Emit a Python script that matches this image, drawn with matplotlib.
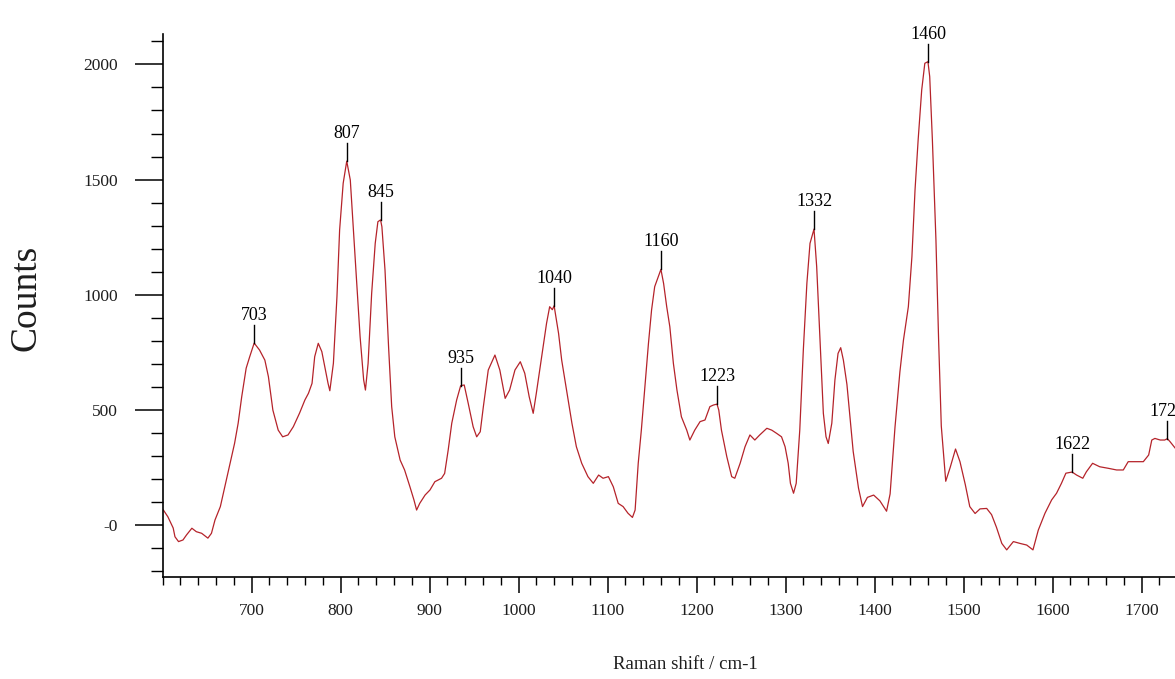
import matplotlib
matplotlib.use("Agg")
import matplotlib.pyplot as plt
import numpy as np
from matplotlib.ticker import MultipleLocator, FixedLocator, FixedFormatter

# Raman spectrum, read point by point (wavenumber in cm-1, intensity in counts)
shift = [
    601, 606, 612, 614, 618, 623, 627, 633, 638, 644, 651, 655, 659, 665, 670,
    676, 681, 685, 689, 694, 698, 703, 709, 715, 719, 724, 730, 735, 741, 747,
    754, 760, 764, 768, 771, 775, 779, 783, 786, 788, 792, 796, 799, 803, 807,
    811, 814, 818, 822, 826, 828, 831, 835, 839, 842, 845, 846.5, 850, 854,
    857.5, 861, 867, 872, 878, 882.5, 885.5, 889, 895, 900.5, 906, 913.5, 917,
    921, 925, 930.5, 935, 939, 943.5, 949, 953, 957, 960.5, 966, 973.5, 979,
    985, 990, 996, 1002, 1007, 1012, 1016.5, 1020, 1026, 1031.5, 1035, 1038,
    1040, 1042, 1045, 1048.5, 1054, 1060, 1065, 1071, 1078, 1084, 1090, 1095,
    1101, 1106.5, 1112, 1117.5, 1123, 1128, 1131, 1134.5, 1138, 1142, 1146,
    1149.5, 1153, 1160, 1163, 1166.5, 1170, 1174, 1178, 1183, 1189, 1192.5,
    1198, 1204, 1209.5, 1215, 1219, 1223, 1225, 1228, 1234, 1239.5, 1243,
    1249, 1254.5, 1260, 1265.5, 1271, 1279, 1284.5, 1290, 1295.5, 1299.5,
    1303, 1305.5, 1309, 1312, 1316, 1320, 1324, 1327.5, 1332, 1335, 1339,
    1342.5, 1345.5, 1348, 1352, 1355.5, 1359, 1362, 1365, 1369, 1376, 1382,
    1386.5, 1392, 1399, 1406, 1413.5, 1417.5, 1423, 1428.5, 1432.5, 1438,
    1442, 1445.5, 1449, 1453, 1456.5, 1460, 1462, 1465, 1469, 1472, 1475,
    1480, 1485, 1491, 1496, 1502, 1507, 1513, 1518.5, 1526, 1531.5, 1537,
    1543, 1548.5, 1556, 1563.5, 1571, 1578, 1584, 1591.5, 1599, 1604.5, 1610,
    1615, 1622, 1627, 1634, 1638, 1645, 1653, 1663, 1672, 1679.5, 1685, 1695,
    1702, 1708, 1711.5, 1715, 1721, 1726, 1729, 1732, 1738, 1745,
]
counts = [
    65, 36, -13, -51, -72, -65, -43, -14, -29, -36, -57, -36, 22, 80, 166,
    268, 355, 442, 557, 681, 731, 790, 760, 716, 644, 499, 412, 383, 391, 427,
    486, 543, 572, 615, 731, 789, 753, 673, 615, 583, 702, 991, 1281, 1484, 1580,
    1498, 1310, 1064, 818, 630, 586, 702, 1006, 1223, 1317, 1325, 1295, 1107, 774,
    514, 383, 282, 239, 166, 109, 65, 94, 130, 152, 188, 203, 224,
    326, 442, 543, 605, 608, 528, 427, 383, 405, 514, 673, 738, 673,
    550, 586, 673, 709, 659, 557, 485, 572, 731, 876, 948, 935,
    952, 905, 832, 716, 586, 442, 340, 268, 210, 181, 217, 203,
    210, 166, 94, 80, 51, 33, 65, 268, 412, 601, 789,
    934, 1035, 1110, 1049, 948, 861, 702, 586, 470, 412, 369,
    412, 449, 456, 514, 521, 525, 499, 412, 297, 210, 203,
    268, 340, 391, 369, 391, 420, 412, 398, 383, 340,
    268, 181, 138, 181, 412, 760, 1050, 1223, 1285, 1122, 780,
    485, 383, 354, 442, 630, 745, 770, 716, 610, 320, 160,
    80, 120, 130, 105, 60, 135, 425, 665, 803, 948,
    1165, 1455, 1672, 1889, 2005, 2012, 1947, 1672, 1237, 803, 430,
    190, 250, 330, 275, 175, 80, 50, 70, 72, 45, -10,
    -80, -108, -72, -80, -87, -108, -22, 51, 109, 138, 181,
    225, 230, 217, 203, 231, 268, 253, 246, 239, 239, 275, 275,
    275, 304, 369, 376, 369, 369, 375, 362, 333, 320,
]

# Labelled band positions (cm-1)
peaks = [703, 807, 845, 935, 1040, 1160, 1223, 1332, 1460, 1622, 1729]

x_major = [700, 800, 900, 1000, 1100, 1200, 1300, 1400, 1500, 1600, 1700]
y_major = [0, 500, 1000, 1500, 2000]
y_labels = ["-0", "500", "1000", "1500", "2000"]

serif = ["Liberation Serif", "DejaVu Serif"]
line_color = "#b5232a"
text_color = "#1e1e1e"

fig = plt.figure(figsize=(11.75, 6.79), dpi=100)
# axes run past the right edge of the figure, so the spectrum is cut off there
ax = fig.add_axes([0.1383, 0.1498, 0.8711, 0.7994])

ax.plot(shift, counts, color=line_color, lw=0.9, solid_joinstyle="round")

ax.set_xlim(600, 1750)
ax.set_ylim(-227, 2130)

for side in ("top", "right"):
    ax.spines[side].set_visible(False)
for side in ("left", "bottom"):
    ax.spines[side].set_linewidth(1.2)
    ax.spines[side].set_color("black")

ax.xaxis.set_major_locator(FixedLocator(x_major))
ax.xaxis.set_minor_locator(MultipleLocator(20))
ax.yaxis.set_major_locator(FixedLocator(y_major))
ax.yaxis.set_major_formatter(FixedFormatter(y_labels))
ax.yaxis.set_minor_locator(MultipleLocator(100))

ax.tick_params(axis="x", which="major", direction="out", length=11.5, width=1.1,
               pad=7, labelsize=12.5, labelcolor=text_color)
ax.tick_params(axis="x", which="minor", direction="out", length=5.6, width=1.0)
ax.tick_params(axis="y", which="major", direction="out", length=20, width=1.1,
               pad=12, labelsize=12.5, labelcolor=text_color)
ax.tick_params(axis="y", which="minor", direction="out", length=8.6, width=1.0)
for lab in ax.get_xticklabels() + ax.get_yticklabels():
    lab.set_family(serif)

# band markers: short stem above each labelled maximum, value on top
stem = 78
gap = 100
for p in peaks:
    yv = float(np.interp(p, shift, counts))
    ax.plot([p, p], [yv, yv + stem], color="black", lw=1.0, clip_on=False)
    ax.text(p, yv + gap, str(p), ha="center", va="baseline", fontsize=13,
            family=serif, color="black", clip_on=False)

fig.text(0.583, 0.021, "Raman shift / cm-1", ha="center", va="center",
         fontsize=13.5, family=serif, color=text_color)
fig.text(0.022, 0.561, "Counts", ha="center", va="center", rotation=90,
         fontsize=27, family=serif, color=text_color)

fig.savefig("out.png", dpi=100)
